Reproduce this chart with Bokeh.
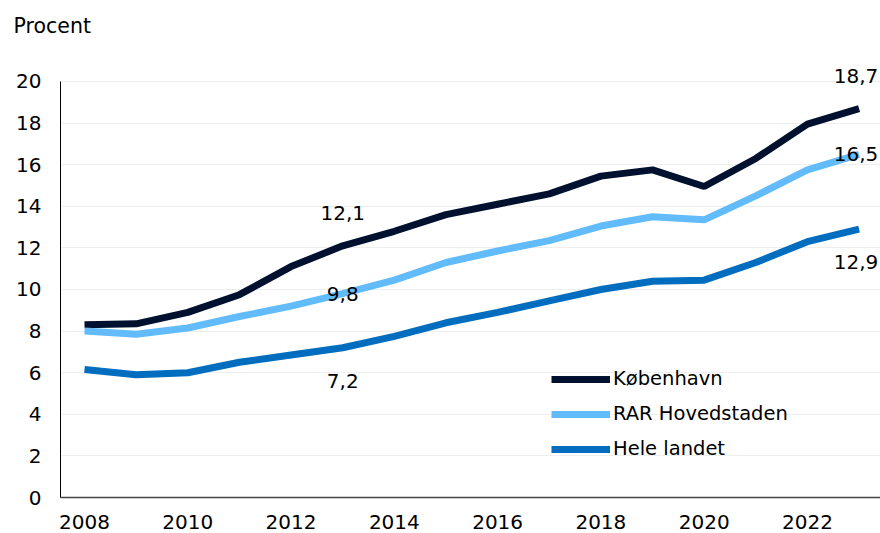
from bokeh.plotting import figure
from bokeh.models import Range1d, Label, Legend, LegendItem, FixedTicker, ColumnDataSource
from bokeh.embed import file_html
from bokeh.resources import INLINE

years = list(range(2008, 2024))
kobenhavn = [8.3, 8.35, 8.9, 9.75, 11.1, 12.1, 12.8, 13.6, 14.1, 14.6, 15.45, 15.75, 14.95, 16.3, 17.95, 18.7]
rar_hovedstaden = [8.0, 7.85, 8.15, 8.7, 9.2, 9.8, 10.45, 11.3, 11.85, 12.35, 13.05, 13.5, 13.35, 14.5, 15.75, 16.5]
hele_landet = [6.15, 5.9, 6.0, 6.5, 6.85, 7.2, 7.75, 8.4, 8.9, 9.45, 10.0, 10.4, 10.45, 11.3, 12.3, 12.9]
series_names = ["København", "RAR Hovedstaden", "Hele landet"]
colors = ["#00112f", "#62bcfb", "#006dbf"]
y_ticks = [0, 2, 4, 6, 8, 10, 12, 14, 16, 18, 20]
x_ticks = [2008, 2010, 2012, 2014, 2016, 2018, 2020, 2022]
label_years = [2013, 2023]
y_unit = "Procent"

FONT = "DejaVu Sans"

p = figure(width=880, height=533, output_backend="svg", toolbar_location=None,
           x_range=Range1d(2007.535, 2023.415), y_range=Range1d(0, 21.971),
           min_border_left=60, min_border_top=40, min_border_right=0, min_border_bottom=36)
p.outline_line_color = None
p.xgrid.grid_line_color = None
p.ygrid.grid_line_color = "#eeeeee"
p.ygrid.grid_line_width = 1

p.title.text = y_unit
p.title.align = "left"
p.title.offset = -47
p.title.text_font = FONT
p.title.text_font_size = "20.5px"
p.title.text_font_style = "normal"
p.title.text_color = "#000000"
p.title.standoff = 5

p.yaxis.ticker = FixedTicker(ticks=y_ticks)
p.xaxis.ticker = FixedTicker(ticks=x_ticks)
p.yaxis.bounds = (0, 20)
for ax in (p.xaxis[0], p.yaxis[0]):
    ax.major_tick_line_color = None
    ax.minor_tick_line_color = None
    ax.major_tick_out = 0
    ax.major_tick_in = 0
    ax.major_label_text_font = FONT
    ax.major_label_text_font_size = "20px"
    ax.major_label_text_color = "#000000"
p.yaxis.axis_line_color = "#000000"
p.yaxis.major_label_standoff = 19
p.xaxis.axis_line_color = "#444444"
p.xaxis.axis_line_width = 1.5
p.xaxis.major_label_standoff = 17

series = [kobenhavn, rar_hovedstaden, hele_landet]
items = []
for name, vals, c in zip(series_names, series, colors):
    src = ColumnDataSource(dict(x=years, y=vals))
    r = p.line("x", "y", source=src, line_color=c, line_width=7)
    items.append(LegendItem(label=name, renderers=[r]))

legend = Legend(items=items, location=(491, 37), border_line_color=None,
                background_fill_alpha=0, padding=0, margin=0, spacing=12,
                glyph_width=59, glyph_height=20, label_standoff=3,
                label_text_font=FONT, label_text_font_size="19.5px", label_height=20,
                label_text_color="#000000")
p.add_layout(legend, "center")

offsets = [33, 0, -33]
for vals, off in zip(series, offsets):
    for yr in label_years:
        v = vals[years.index(yr)]
        txt = f"{v:.1f}".replace(".", ",")
        p.add_layout(Label(x=yr, y=v, y_offset=off, x_offset=(-3 if yr == 2023 else 0),
                           text=txt, text_align="center", text_baseline="middle",
                           text_font=FONT, text_font_size="20px", text_color="#000000"))

open("out.html", "w").write(file_html(p, INLINE))
